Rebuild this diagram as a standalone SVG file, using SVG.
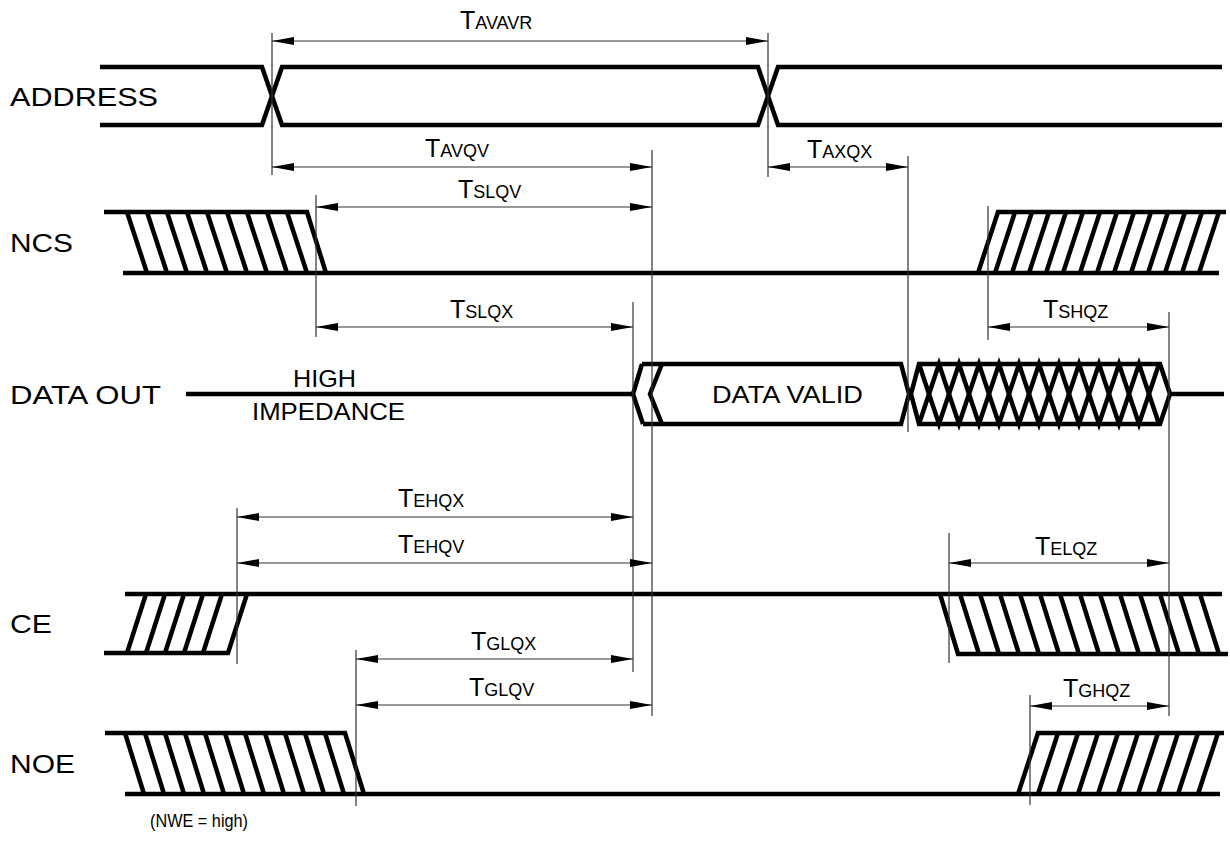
<svg xmlns="http://www.w3.org/2000/svg" width="1230" height="852" viewBox="0 0 1230 852">
<style>
.sig{fill:none;stroke:#000;stroke-width:4.5;stroke-linejoin:miter;stroke-linecap:butt}
.hat{fill:none;stroke:#000;stroke-width:4.5}
.dim{stroke:#333;stroke-width:1.2;marker-start:url(#arr);marker-end:url(#arr)}
.ext{stroke:#333;stroke-width:1.2}
.lbl{font-family:"Liberation Sans",Arial,sans-serif;font-size:26px;fill:#000}
.txt{font-family:"Liberation Sans",Arial,sans-serif;font-size:24px;fill:#000}
.tm{font-family:"Liberation Sans",Arial,sans-serif;font-size:25px;fill:#000}
.sub{font-size:18px}
.note{font-family:"Liberation Sans",Arial,sans-serif;font-size:18px;fill:#000}
</style>
<defs>
<marker id="arr" markerUnits="userSpaceOnUse" markerWidth="24" markerHeight="10" refX="22" refY="5" orient="auto-start-reverse" viewBox="0 0 24 10">
<path d="M0,1 L22,5 L0,9 Z" fill="#000"/>
</marker>
</defs>
<rect width="1230" height="852" fill="#fff"/>

<g id="address">
<text class="lbl" x="10" y="106" textLength="148" lengthAdjust="spacingAndGlyphs">ADDRESS</text>
<polyline class="sig" points="100,67 262,67 282,125 758,125 778,67 1222,67"/>
<polyline class="sig" points="100,125 262,125 282,67 758,67 778,125 1222,125"/>
</g>

<g id="ncs">
<text class="lbl" x="10" y="252" textLength="63" lengthAdjust="spacingAndGlyphs">NCS</text>
<path class="sig" d="M104,212 L307,212 L326,273 M123,273 L978,273 L998,212 L1226,212 M978,273 L1219,273"/>
<path class="hat" d="M127,212 L147,273 M147,212 L167,273 M167,212 L187,273 M187,212 L207,273 M207,212 L227,273 M227,212 L247,273 M247,212 L267,273 M267,212 L287,273 M287,212 L307,273
M995,273 L1015,212 M1012,273 L1032,212 M1029,273 L1049,212 M1046,273 L1066,212 M1063,273 L1083,212 M1080,273 L1100,212 M1097,273 L1117,212 M1114,273 L1134,212 M1131,273 L1151,212 M1148,273 L1168,212 M1165,273 L1185,212 M1182,273 L1202,212 M1199,273 L1219,212"/>
</g>

<g id="data-out">
<text class="lbl" x="10" y="404" textLength="151" lengthAdjust="spacingAndGlyphs">DATA OUT</text>
<text class="txt" x="293" y="387" textLength="63" lengthAdjust="spacingAndGlyphs">HIGH</text>
<text class="txt" x="252" y="420" textLength="153" lengthAdjust="spacingAndGlyphs">IMPEDANCE</text>
<path class="sig" d="M186,394 L633,394 M642,364 L633,394 L643,424 M662,364 L650,394 L662,424 M642,364 L901,364 L909,394 L901,424 L643,424"/>
<text class="txt" x="712" y="403" textLength="151" lengthAdjust="spacingAndGlyphs">DATA VALID</text>
<path class="sig" d="M911,394 L919,364 L1160,364 L1170,394 L1160,424 L919,424 Z M1170,394 L1224,394"/>
<polyline class="hat" stroke-width="4" points="919,364 939,424 959,364 979,424 999,364 1019,424 1039,364 1059,424 1079,364 1099,424 1119,364 1139,424 1159,364"/>
<polyline class="hat" stroke-width="4" points="919,424 939,364 959,424 979,364 999,424 1019,364 1039,424 1059,364 1079,424 1099,364 1119,424 1139,364 1159,424"/>
</g>

<g id="ce">
<text class="lbl" x="10" y="633" textLength="42" lengthAdjust="spacingAndGlyphs">CE</text>
<path class="sig" d="M125,594 L1222,594 M104,653 L228,653 L247,594 M940,594 L958,654 L1228,654"/>
<path class="hat" d="M127,653 L146,594 M146,653 L165,594 M165,653 L184,594 M184,653 L203,594 M203,653 L222,594
M960,594 L979,654 M980,594 L999,654 M1000,594 L1019,654 M1020,594 L1039,654 M1040,594 L1059,654 M1060,594 L1079,654 M1080,594 L1099,654 M1100,594 L1119,654 M1120,594 L1139,654 M1140,594 L1159,654 M1160,594 L1179,654 M1180,594 L1199,654 M1200,594 L1219,654"/>
</g>

<g id="noe">
<text class="lbl" x="10" y="773" textLength="65" lengthAdjust="spacingAndGlyphs">NOE</text>
<path class="sig" d="M105,733 L345,733 L364,794 M125,794 L1018,794 L1038,733 L1224,733 M1018,794 L1220,794"/>
<path class="hat" d="M125,733 L144,794 M145,733 L164,794 M165,733 L184,794 M185,733 L204,794 M205,733 L224,794 M225,733 L244,794 M245,733 L264,794 M265,733 L284,794 M285,733 L304,794 M305,733 L324,794 M325,733 L344,794
M1038,794 L1058,733 M1058,794 L1078,733 M1078,794 L1098,733 M1098,794 L1118,733 M1118,794 L1138,733 M1138,794 L1158,733 M1158,794 L1178,733 M1178,794 L1198,733 M1198,794 L1218,733"/>
<text class="note" x="150" y="827" textLength="98" lengthAdjust="spacingAndGlyphs">(NWE = high)</text>
</g>

<g id="connectors">
<line class="ext" x1="272" y1="33" x2="272" y2="175"/>
<line class="ext" x1="768" y1="33" x2="768" y2="177"/>
<line class="ext" x1="316" y1="195" x2="316" y2="337"/>
<line class="ext" x1="652" y1="150" x2="652" y2="716"/>
<line class="ext" x1="633" y1="302" x2="633" y2="672"/>
<line class="ext" x1="908" y1="156" x2="908" y2="432"/>
<line class="ext" x1="988" y1="206" x2="988" y2="340"/>
<line class="ext" x1="1169" y1="312" x2="1169" y2="716"/>
<line class="ext" x1="237" y1="508" x2="237" y2="664"/>
<line class="ext" x1="949" y1="533" x2="949" y2="663"/>
<line class="ext" x1="356" y1="650" x2="356" y2="806"/>
<line class="ext" x1="1030" y1="695" x2="1030" y2="805"/>

<line class="dim" x1="272" y1="41" x2="768" y2="41"/>
<line class="dim" x1="272" y1="167" x2="652" y2="167"/>
<line class="dim" x1="316" y1="207" x2="652" y2="207"/>
<line class="dim" x1="768" y1="167" x2="908" y2="167"/>
<line class="dim" x1="316" y1="327" x2="633" y2="327"/>
<line class="dim" x1="988" y1="327" x2="1169" y2="327"/>
<line class="dim" x1="237" y1="517" x2="633" y2="517"/>
<line class="dim" x1="237" y1="563" x2="652" y2="563"/>
<line class="dim" x1="949" y1="563" x2="1169" y2="563"/>
<line class="dim" x1="356" y1="659" x2="633" y2="659"/>
<line class="dim" x1="356" y1="705" x2="652" y2="705"/>
<line class="dim" x1="1030" y1="706" x2="1169" y2="706"/>

<text class="tm" x="460" y="29">T<tspan class="sub">AVAVR</tspan></text>
<text class="tm" x="425" y="157">T<tspan class="sub">AVQV</tspan></text>
<text class="tm" x="458" y="198">T<tspan class="sub">SLQV</tspan></text>
<text class="tm" x="807" y="158">T<tspan class="sub">AXQX</tspan></text>
<text class="tm" x="450" y="318">T<tspan class="sub">SLQX</tspan></text>
<text class="tm" x="1043" y="318">T<tspan class="sub">SHQZ</tspan></text>
<text class="tm" x="398" y="507">T<tspan class="sub">EHQX</tspan></text>
<text class="tm" x="398" y="553">T<tspan class="sub">EHQV</tspan></text>
<text class="tm" x="1035" y="555">T<tspan class="sub">ELQZ</tspan></text>
<text class="tm" x="471" y="650">T<tspan class="sub">GLQX</tspan></text>
<text class="tm" x="469" y="696">T<tspan class="sub">GLQV</tspan></text>
<text class="tm" x="1063" y="697">T<tspan class="sub">GHQZ</tspan></text>
</g>
</svg>
